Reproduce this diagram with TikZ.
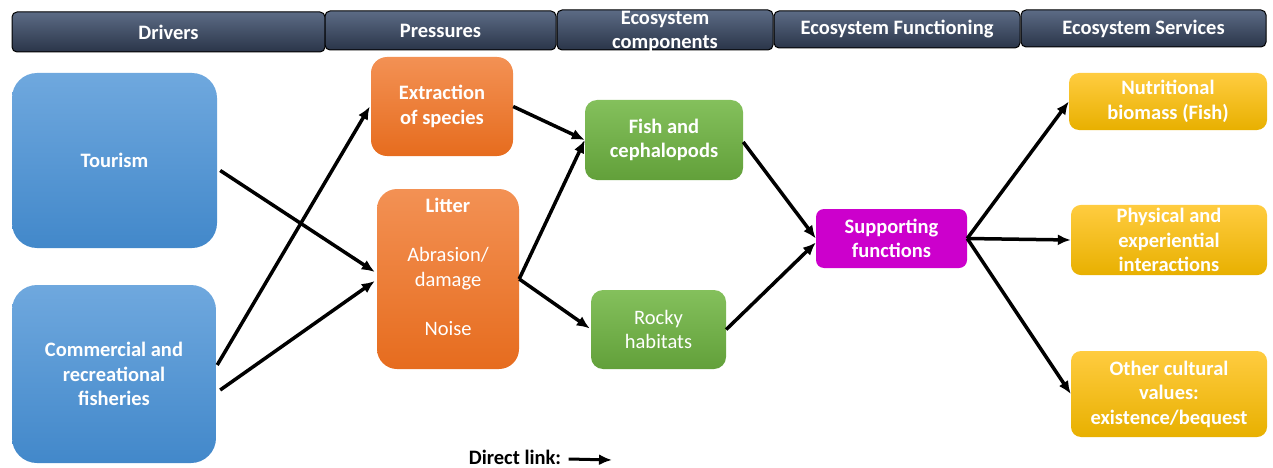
\documentclass[tikz,border=0pt]{standalone}
\usepackage{fontspec}
\setmainfont{Carlito}
\usepackage{tikz}
\usetikzlibrary{arrows.meta}
\definecolor{headTop}{RGB}{92, 107, 133}
\definecolor{headBot}{RGB}{42, 53, 73}
\definecolor{blueTop}{RGB}{111, 168, 222}
\definecolor{blueBot}{RGB}{66, 136, 202}
\definecolor{orangeTop}{RGB}{243, 145, 84}
\definecolor{orangeBot}{RGB}{230, 108, 30}
\definecolor{greenTop}{RGB}{132, 192, 92}
\definecolor{greenBot}{RGB}{98, 160, 58}
\definecolor{yellowTop}{RGB}{255, 204, 64}
\definecolor{yellowBot}{RGB}{232, 176, 0}
\definecolor{suppMagenta}{RGB}{204, 0, 204}

\begin{document}
\begin{tikzpicture}[x=1pt, y=-1pt,
    every node/.style={font=\fontsize{20.5}{24.5}\selectfont\bfseries, text=white, align=center},
    header/.style={draw=black, line width=1pt, rounded corners=5pt, top color=headTop, bottom color=headBot},
    bluebox/.style={rounded corners=25pt, top color=blueTop, bottom color=blueBot},
    orangebox/.style={rounded corners=16pt, top color=orangeTop, bottom color=orangeBot},
    greenbox/.style={rounded corners=12pt, top color=greenTop, bottom color=greenBot},
    yellowbox/.style={rounded corners=10pt, top color=yellowTop, bottom color=yellowBot},
    link/.style={-{Latex[length=13pt, width=11pt]}, line width=3.5pt}]
  \useasboundingbox (0,0) rectangle (1273,468);

  % column headers
  \node[header, minimum width=313, minimum height=40] (hDrivers) at (168.5,32) {Drivers};
  \node[header, minimum width=231, minimum height=39] (hPressures) at (440.5,30.5) {Pressures};
  \node[header, minimum width=216, minimum height=40] (hComponents) at (665,30) {};
  \node (hComponentsText) at (665,31.5) {Ecosystem\\components};
  \node[header, minimum width=246, minimum height=37] (hFunctioning) at (897,29.5) {Ecosystem Functioning};
  \node[header, minimum width=245, minimum height=37] (hServices) at (1143.5,28.5) {Ecosystem Services};

  % drivers
  \node[bluebox, minimum width=205, minimum height=175] (tourism) at (114.5,160.5) {Tourism};
  \node[bluebox, minimum width=204, minimum height=178] (fisheries) at (114,374) {Commercial and\\recreational\\fisheries};

  % pressures
  \node[orangebox, minimum width=142, minimum height=99] (extraction) at (442,106.5) {Extraction\\of species};
  \node[orangebox, rounded corners=20pt, minimum width=142, minimum height=180] (litter) at (448,279) {};
  \node (litterText) at (448,267) {Litter\\[25pt]\mdseries Abrasion/\\\mdseries damage\\[25pt]\mdseries Noise};

  % ecosystem components
  \node[greenbox, minimum width=158, minimum height=80] (fish) at (664,140) {Fish and\\cephalopods};
  \node[greenbox, minimum width=135, minimum height=79] (rocky) at (658.5,329.5) {\mdseries Rocky\\\mdseries habitats};

  % ecosystem functioning
  \node[rounded corners=8pt, fill=suppMagenta, minimum width=151, minimum height=59] (supporting) at (891.5,238.5) {Supporting\\functions};

  % ecosystem services
  \node[yellowbox, minimum width=198, minimum height=57] (nutrition) at (1168,101.5) {Nutritional\\biomass (Fish)};
  \node[yellowbox, minimum width=196, minimum height=66] (physical) at (1169,240) {Physical and\\experiential\\interactions};
  \node[yellowbox, minimum width=196, minimum height=86] (cultural) at (1169,394) {Other cultural\\values:\\existence/bequest};

  % links
  \draw[link] ([shift={(3,10)}]tourism.east) -- ([shift={(-2,-7)}]litter.west);
  \draw[link] ([shift={(1,-9)}]fisheries.east) -- ([xshift=-1pt]extraction.west);
  \draw[link] ([shift={(4,16)}]fisheries.east) -- ([shift={(-2,2)}]litter.west);
  \draw[link] (extraction.east) -- (fish.west);
  \draw[link] (litter.east) -- (fish.west);
  \draw[link] (litter.east) -- ([shift={(-1,-1)}]rocky.west);
  \draw[link] ([yshift=-2pt]fish.east) -- (supporting.west);
  \draw[link] (rocky.east) -- ([yshift=-4pt]supporting.west);
  \draw[link] (supporting.east) -- (nutrition.west);
  \draw[link] (supporting.east) -- (physical.west);
  \draw[link] (supporting.east) -- (cultural.west);

  % legend
  \node[text=black] (legend) at (515,457) {Direct link:};
  \coordinate (legendTip) at (612,460);
  \draw[link, line width=3pt] ([shift={(4,2)}]legend.east) -- (legendTip);
\end{tikzpicture}
\end{document}
